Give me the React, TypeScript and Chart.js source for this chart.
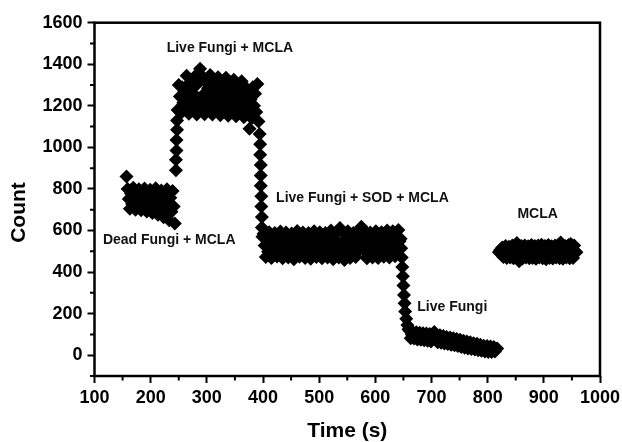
import React, { useEffect, useRef } from "react";
import { Chart, registerables } from "chart.js";

Chart.register(...registerables);

// ---------- data (time in s, count) ----------
const deadStart = 157;
const deadStep = 2;
const deadCounts = [
  860,
  800, 752, 705, 778, 728,
  806, 748, 700, 775, 724,
  798, 745, 698, 772, 720,
  802, 742, 692, 770, 716,
  796, 738, 684, 768, 712,
  804, 735, 676, 765, 705,
  792, 728, 664, 760, 698,
  798, 722, 650, 758, 690,
  790, 715, 634,
];

const riseTimes = [245, 245, 246, 246, 247, 247, 248];
const riseCounts = [890, 940, 985, 1035, 1085, 1130, 1180];

const liveStart = 250;
const liveStep = 2;
const liveCounts = [
  1300, 1245, 1165, 1290, 1215, 1270, 1188,
  1345, 1252, 1162, 1312, 1222, 1282, 1192,
  1340, 1248, 1158, 1308, 1218, 1378, 1190,
  1342, 1255, 1160, 1315, 1225, 1285, 1195,
  1348, 1250, 1158, 1310, 1220, 1280, 1188,
  1338, 1245, 1155, 1305, 1215, 1275, 1185,
  1335, 1242, 1152, 1302, 1212, 1272, 1182,
  1325, 1238, 1150, 1298, 1210, 1268, 1178,
  1318, 1235, 1145, 1292, 1205, 1262, 1175,
  1090, 1230, 1140, 1290, 1200, 1258, 1170,
  1305, 1125,
];

const dropTimes = [394, 395, 395, 396, 396, 396, 397, 397, 398, 398, 399];
const dropCounts = [1065, 1015, 965, 915, 865, 815, 765, 715, 665, 615, 570];

const sodStart = 401;
const sodStep = 2;
const sodCounts = [
  585, 528, 472, 558, 498,
  592, 532, 468, 562, 502,
  588, 526, 475, 555, 496,
  595, 534, 466, 560, 505,
  590, 528, 470, 564, 498,
  586, 530, 462, 556, 500,
  598, 535, 474, 560, 496,
  590, 528, 468, 562, 503,
  588, 532, 464, 556, 498,
  596, 526, 472, 560, 502,
  592, 530, 466, 564, 496,
  588, 534, 470, 558, 500,
  600, 528, 462, 560, 505,
  594, 532, 470, 612, 498,
  590, 526, 458, 556, 502,
  596, 530, 468, 562, 496,
  588, 534, 472, 558, 500,
  594, 528, 618, 560, 504,
  598, 532, 466, 556, 498,
  590, 526, 470, 562, 502,
  596, 530, 468, 558, 496,
  592, 534, 474, 560, 505,
  600, 528, 470, 564, 500,
  596, 532, 476, 562, 506,
  602, 548,
];

const fallTimes = [645, 646, 647, 648, 649, 650, 651, 652, 653, 655, 657, 659];
const fallCounts = [560, 515, 470, 425, 380, 335, 290, 250, 210, 175, 145, 125];

const fungiStart = 661;
const fungiStep = 2;
const fungiCounts = [
  118, 82, 100, 112, 80, 96, 110, 76, 94, 108, 74, 92, 106, 72, 90,
  104, 70, 88, 102, 66, 85, 100, 112, 84, 98, 62, 80, 96, 60, 78,
  92, 56, 75, 88, 54, 72, 85, 50, 68, 82, 48, 65, 78, 44, 62,
  75, 40, 58, 70, 36, 54, 66, 32, 50, 62, 30, 46, 58, 28, 42,
  55, 24, 40, 50, 22, 38, 46, 18, 34, 44, 16, 30, 42, 15, 28,
  40, 18, 30, 32,
];

const mclaStart = 820;
const mclaStep = 2;
const mclaCounts = [
  495, 505, 488, 518, 472, 498, 525, 468, 500, 522, 470, 495,
  528, 466, 502, 530, 540, 470, 452, 498, 526, 465, 500, 528,
  470, 496, 524, 466, 502, 530, 468, 498, 525, 464, 500, 528,
  470, 495, 532, 466, 502, 526, 462, 498, 530, 468, 500, 524,
  465, 496, 528, 470, 502, 532, 466, 542, 530, 464, 498, 526,
  470, 500, 530, 466, 535, 498, 468, 528, 500, 495,
];

const xTickValues = [100, 200, 300, 400, 500, 600, 700, 800, 900, 1000];
const xMinorValues = [150, 250, 350, 450, 550, 650, 750, 850, 950];
const yTickValues = [0, 200, 400, 600, 800, 1000, 1200, 1400, 1600];
const yMinorValues = [-100, 100, 300, 500, 700, 900, 1100, 1300, 1500];

const annotationTexts = [
  "Live Fungi + MCLA",
  "Dead Fungi + MCLA",
  "Live Fungi + SOD + MCLA",
  "Live Fungi",
  "MCLA",
];
const annotationX = [341, 233, 577, 737, 889];
const annotationY = [1478, 555, 757, 233, 680];

const xTitle = "Time (s)";
const yTitle = "Count";

// ---------- build points ----------
function regular(start: number, step: number, counts: number[]) {
  return counts.map((c, i) => ({ x: start + i * step, y: c }));
}
function paired(times: number[], counts: number[]) {
  return counts.map((c, i) => ({ x: times[i], y: c }));
}

const points = [
  ...regular(deadStart, deadStep, deadCounts),
  ...paired(riseTimes, riseCounts),
  ...regular(liveStart, liveStep, liveCounts),
  ...paired(dropTimes, dropCounts),
  ...regular(sodStart, sodStep, sodCounts),
  ...paired(fallTimes, fallCounts),
  ...regular(fungiStart, fungiStep, fungiCounts),
  ...regular(mclaStart, mclaStep, mclaCounts),
];

const FONT = '"Liberation Sans", Arial, Helvetica, sans-serif';

const decorPlugin = {
  id: "decor",
  afterDraw(chart: any) {
    const { ctx, chartArea, scales } = chart;
    const xs = scales.x;
    const ys = scales.y;
    ctx.save();
    // frame
    ctx.strokeStyle = "#000";
    ctx.lineWidth = 2.5;
    ctx.strokeRect(
      chartArea.left,
      chartArea.top,
      chartArea.right - chartArea.left,
      chartArea.bottom - chartArea.top
    );
    // minor ticks
    ctx.lineWidth = 2;
    ctx.beginPath();
    xMinorValues.forEach((v) => {
      const px = xs.getPixelForValue(v);
      ctx.moveTo(px, chartArea.bottom);
      ctx.lineTo(px, chartArea.bottom + 4.5);
    });
    yMinorValues.forEach((v) => {
      const py = ys.getPixelForValue(v);
      ctx.moveTo(chartArea.left, py);
      ctx.lineTo(chartArea.left - 4.5, py);
    });
    ctx.stroke();
    // annotations
    ctx.fillStyle = "#111";
    ctx.font = `bold 14px ${FONT}`;
    ctx.textAlign = "center";
    ctx.textBaseline = "middle";
    annotationTexts.forEach((t, i) => {
      ctx.fillText(
        t,
        xs.getPixelForValue(annotationX[i]),
        ys.getPixelForValue(annotationY[i])
      );
    });
    // axis titles
    ctx.fillStyle = "#000";
    ctx.font = `bold 21px ${FONT}`;
    ctx.textBaseline = "alphabetic";
    ctx.textAlign = "center";
    ctx.fillText(xTitle, (chartArea.left + chartArea.right) / 2, 436.5);
    ctx.translate(25, 212.5);
    ctx.rotate(-Math.PI / 2);
    ctx.fillText(yTitle, 0, 0);
    ctx.restore();
  },
};

export default function App() {
  const canvasRef = useRef<HTMLCanvasElement | null>(null);

  useEffect(() => {
    const canvas = canvasRef.current;
    if (!canvas) return;
    Chart.defaults.font.family = FONT;
    Chart.defaults.color = "#000";
    const chart = new Chart(canvas, {
      type: "scatter",
      data: {
        datasets: [
          {
            data: points,
            pointStyle: "rectRot",
            pointRadius: 7,
            pointHoverRadius: 7,
            pointBackgroundColor: "#000",
            pointBorderColor: "#000",
            pointBorderWidth: 0,
            showLine: false,
          },
        ],
      },
      options: {
        animation: false,
        responsive: false,
        events: [],
        layout: { padding: { left: 0, top: 22.7, right: 22, bottom: 0 } },
        plugins: {
          legend: { display: false },
          tooltip: { enabled: false },
        },
        scales: {
          x: {
            type: "linear",
            min: 100,
            max: 1000,
            afterBuildTicks: (scale: any) => {
              scale.ticks = xTickValues.map((v) => ({ value: v }));
            },
            afterFit: (scale: any) => {
              scale.height = 66;
              scale.paddingLeft = 0;
              scale.paddingRight = 0;
            },
            border: { display: false },
            grid: {
              drawOnChartArea: false,
              drawTicks: true,
              tickLength: 7,
              tickWidth: 2,
              tickColor: "#000",
              color: "#000",
            },
            ticks: {
              autoSkip: false,
              maxRotation: 0,
              padding: 4,
              color: "#000",
              font: { size: 18, weight: "bold", family: FONT },
              callback: (v: any) => String(v),
            },
          },
          y: {
            type: "linear",
            min: -100,
            max: 1600,
            afterBuildTicks: (scale: any) => {
              scale.ticks = yTickValues.map((v) => ({ value: v }));
            },
            afterFit: (scale: any) => {
              scale.width = 94.5;
              scale.paddingTop = 0;
              scale.paddingBottom = 0;
            },
            border: { display: false },
            grid: {
              drawOnChartArea: false,
              drawTicks: true,
              tickLength: 7,
              tickWidth: 2,
              tickColor: "#000",
              color: "#000",
            },
            ticks: {
              autoSkip: false,
              padding: 5,
              color: "#000",
              font: { size: 18, weight: "bold", family: FONT },
              callback: (v: any) => String(v),
            },
          },
        },
      },
      plugins: [decorPlugin],
    });
    return () => chart.destroy();
  }, []);

  return (
    <div
      style={{
        position: "fixed",
        left: 0,
        top: 0,
        width: 622,
        height: 442,
        background: "#fff",
      }}
    >
      <canvas
        ref={canvasRef}
        width={622}
        height={442}
        style={{ display: "block", width: 622, height: 442 }}
      />
    </div>
  );
}
